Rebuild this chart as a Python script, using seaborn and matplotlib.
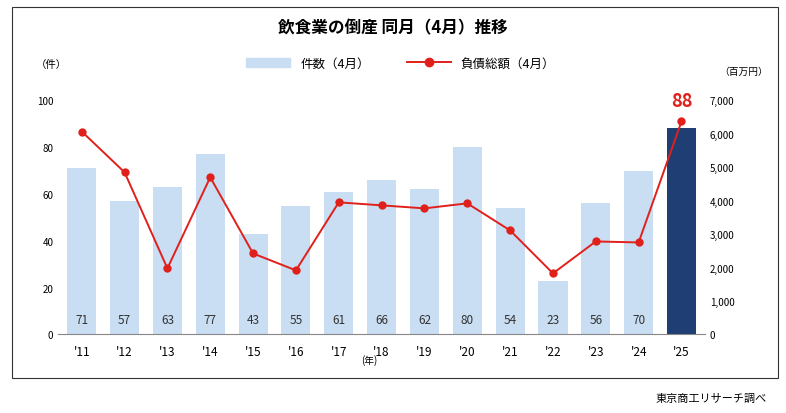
import matplotlib
matplotlib.use("Agg")
import matplotlib.pyplot as plt
from matplotlib.patches import Rectangle, Patch
from matplotlib.lines import Line2D
import seaborn as sns
import pandas as pd

plt.rcParams["font.family"] = "Noto Sans CJK JP"

years = ["'11", "'12", "'13", "'14", "'15", "'16", "'17", "'18", "'19", "'20", "'21", "'22", "'23", "'24", "'25"]
counts = [71, 57, 63, 77, 43, 55, 61, 66, 62, 80, 54, 23, 56, 70, 88]
debt = [6070, 4850, 1975, 4700, 2420, 1915, 3950, 3860, 3770, 3920, 3110, 1825, 2780, 2750, 6370]

df = pd.DataFrame({"year": years, "count": counts, "debt": debt})
colors = ["#C9DDF3"] * (len(years) - 1) + ["#1F3F74"]

fig = plt.figure(figsize=(7.86, 4.14), dpi=100)
fig.patches.append(Rectangle((0.015, 0.085), 0.975, 0.895, transform=fig.transFigure,
                             fill=False, edgecolor="#333333", lw=0.8))
ax = fig.add_axes([0.074, 0.19, 0.823, 0.565])
sns.barplot(data=df, x="year", y="count", hue="year", palette=colors, legend=False,
            width=0.68, saturation=1, ax=ax, zorder=2)
ax.set_ylim(0, 100)
ax.set_yticks(range(0, 101, 20))
ax.set_xlabel("")
ax.set_ylabel("")
for i, v in enumerate(counts[:-1]):
    ax.text(i, 3.5, str(v), ha="center", va="bottom", fontsize=8.5, color="#333333")
ax.text(len(counts) - 1, counts[-1] + 8, str(counts[-1]), ha="center", va="bottom",
        fontsize=13, fontweight="bold", color="#E0201B", clip_on=False)
for s in ["top", "right", "left"]:
    ax.spines[s].set_visible(False)
ax.spines["bottom"].set_color("#888888")
ax.tick_params(axis="y", length=0, labelsize=7)
ax.tick_params(axis="x", length=0, labelsize=8.5, pad=8)

ax2 = ax.twinx()
sns.lineplot(x=list(range(len(years))), y=debt, color="#E0201B", marker="o",
             markersize=6, markeredgewidth=0, lw=1.4, ax=ax2, zorder=3)
ax2.set_ylim(0, 7000)
ax2.set_yticks(range(0, 7001, 1000))
ax2.set_yticklabels([f"{v:,}" for v in range(0, 7001, 1000)])
ax2.tick_params(axis="y", length=0, labelsize=7)
for s in ax2.spines.values():
    s.set_visible(False)
ax.set_xlim(-0.55, len(years) - 0.45)

fig.text(0.5, 0.92, "飲食業の倒産 同月（4月）推移", ha="center", fontsize=12, fontweight="bold")
fig.text(0.045, 0.835, "（件）", fontsize=7.5)
fig.text(0.915, 0.82, "（百万円）", fontsize=7, ha="left")
fig.text(0.47, 0.12, "(年)", fontsize=7, ha="center")
fig.text(0.975, 0.03, "東京商工リサーチ調べ", fontsize=8, ha="right")

handles = [Patch(color="#C9DDF3", label="件数（4月）"),
           Line2D([], [], color="#E0201B", marker="o", markersize=6, lw=1.4, label="負債総額（4月）")]
fig.legend(handles=handles, loc="center", bbox_to_anchor=(0.51, 0.845), ncol=2,
           frameon=False, fontsize=9, handlelength=3.5, columnspacing=3)

fig.savefig("out.png", dpi=100)
